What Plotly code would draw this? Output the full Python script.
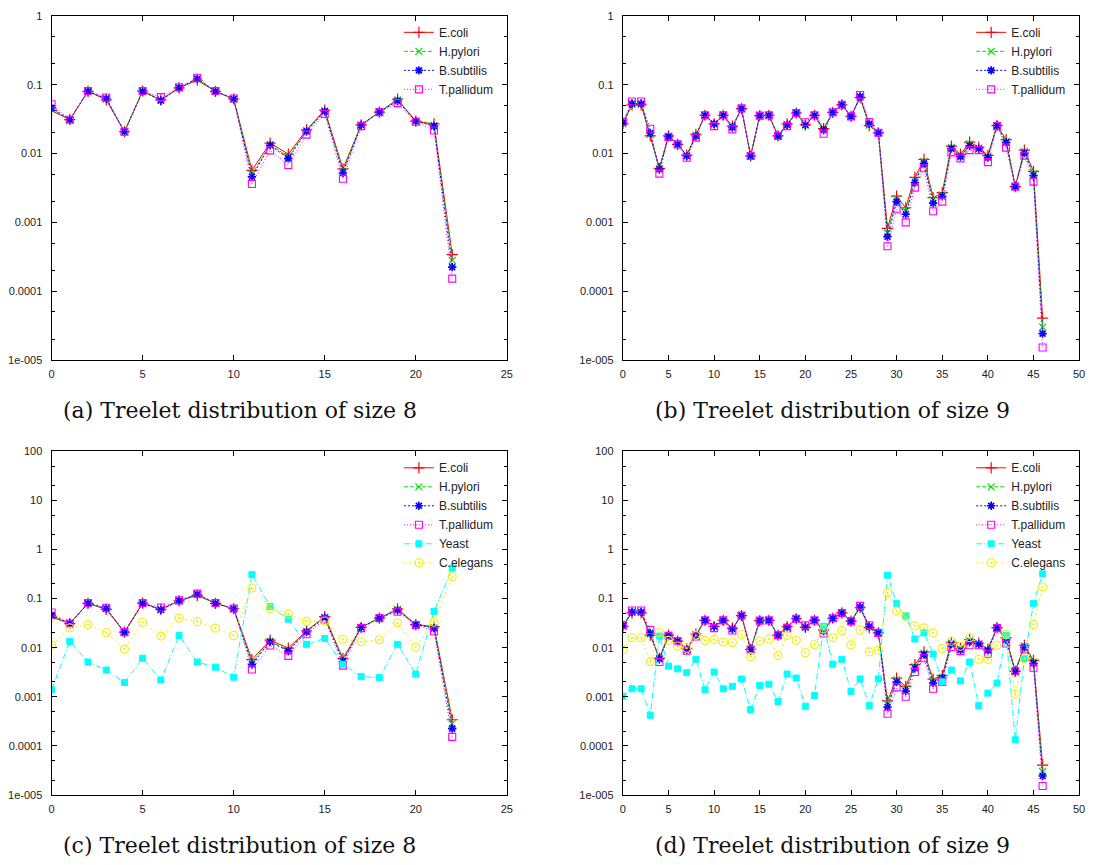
import plotly.graph_objects as go

# ---------------- data ----------------
x8 = list(range(23))
x9 = list(range(47))

ecoli8 = [0.042, 0.031, 0.080, 0.060, 0.0207, 0.081, 0.060, 0.090, 0.116, 0.080, 0.062, 0.0057,
          0.0142, 0.0098, 0.0221, 0.0428, 0.0060, 0.026, 0.040, 0.0615, 0.0295, 0.0269, 0.00034]
hpylori8 = [0.044, 0.031, 0.080, 0.062, 0.0207, 0.080, 0.060, 0.090, 0.120, 0.080, 0.062, 0.0050,
            0.0135, 0.0090, 0.0215, 0.0415, 0.0055, 0.026, 0.040, 0.060, 0.0295, 0.0255, 0.00028]
bsubtilis8 = [0.046, 0.031, 0.080, 0.063, 0.0207, 0.080, 0.059, 0.090, 0.122, 0.080, 0.062, 0.0046,
              0.0132, 0.0085, 0.0210, 0.041, 0.0052, 0.026, 0.040, 0.058, 0.0295, 0.025, 0.000224]
tpallidum8 = [0.052, 0.031, 0.081, 0.065, 0.0207, 0.081, 0.066, 0.092, 0.126, 0.081, 0.063, 0.0036,
              0.0111, 0.0068, 0.0188, 0.0375, 0.0043, 0.025, 0.040, 0.054, 0.029, 0.0216, 0.000152]
yeast8 = [0.00139, 0.0134, 0.0051, 0.0035, 0.00195, 0.0061, 0.0022, 0.0177, 0.0051, 0.0040, 0.0025,
          0.308, 0.069, 0.038, 0.0117, 0.0154, 0.0046, 0.00257, 0.00245, 0.0117, 0.0029, 0.055, 0.415]
celegans8 = [0.0113, 0.0253, 0.0295, 0.0204, 0.0094, 0.0329, 0.0172, 0.040, 0.0339, 0.025, 0.0177,
             0.164, 0.063, 0.0483, 0.0344, 0.035, 0.0148, 0.0132, 0.0145, 0.0319, 0.0103, 0.033, 0.28]

ecoli9 = [0.027, 0.051, 0.051, 0.018, 0.0061, 0.018, 0.0136, 0.0095, 0.019, 0.036,
          0.027, 0.036, 0.025, 0.045, 0.0092, 0.0355, 0.036, 0.018, 0.027, 0.0388,
          0.026, 0.036, 0.023, 0.0397, 0.051, 0.0347, 0.065, 0.0255, 0.020, 0.00082,
          0.0024, 0.00163, 0.0045, 0.0082, 0.00228, 0.0027, 0.0128, 0.0097, 0.0146, 0.0123,
          0.0094, 0.0255, 0.0159, 0.0033, 0.0112, 0.0055, 0.0000406]
hpylori9 = [0.027, 0.052, 0.052, 0.019, 0.0060, 0.0178, 0.0136, 0.0093, 0.0185, 0.036,
            0.027, 0.036, 0.0245, 0.045, 0.0092, 0.0355, 0.036, 0.018, 0.0265, 0.0388,
            0.026, 0.036, 0.0225, 0.0397, 0.051, 0.0347, 0.066, 0.026, 0.020, 0.00070,
            0.0022, 0.00145, 0.0041, 0.0077, 0.0021, 0.0025, 0.0123, 0.0093, 0.0138, 0.012,
            0.0090, 0.0255, 0.0150, 0.0033, 0.0107, 0.0051, 0.000030]
bsubtilis9 = [0.028, 0.053, 0.053, 0.0199, 0.0059, 0.0176, 0.0136, 0.0092, 0.018, 0.036,
              0.027, 0.036, 0.024, 0.045, 0.0092, 0.0355, 0.036, 0.018, 0.026, 0.0388,
              0.026, 0.036, 0.022, 0.0397, 0.051, 0.0347, 0.067, 0.027, 0.020, 0.00062,
              0.0020, 0.00131, 0.0038, 0.0072, 0.0019, 0.0024, 0.0118, 0.0090, 0.013, 0.0118,
              0.0088, 0.0255, 0.0145, 0.0033, 0.0102, 0.0048, 0.0000242]
tpallidum9 = [0.029, 0.057, 0.057, 0.0229, 0.0051, 0.0174, 0.0136, 0.0087, 0.017, 0.036,
              0.025, 0.036, 0.0224, 0.0453, 0.0092, 0.0355, 0.036, 0.018, 0.025, 0.0388,
              0.0285, 0.036, 0.0194, 0.0397, 0.051, 0.0347, 0.071, 0.0286, 0.020, 0.00045,
              0.00155, 0.0010, 0.0032, 0.0061, 0.00145, 0.0020, 0.0104, 0.0085, 0.0112, 0.0112,
              0.0075, 0.025, 0.0122, 0.0033, 0.0093, 0.0039, 0.0000152]
yeast9 = [0.00102, 0.00145, 0.00145, 0.00042, 0.0172, 0.0042, 0.0037, 0.0031, 0.0058, 0.00139,
          0.0032, 0.00145, 0.00163, 0.0023, 0.00055, 0.0017, 0.0018, 0.00080, 0.0029, 0.0024,
          0.00064, 0.00106, 0.0274, 0.0046, 0.0058, 0.00129, 0.0023, 0.00066, 0.0023, 0.30,
          0.079, 0.045, 0.0150, 0.020, 0.0074, 0.0020, 0.0035, 0.0021, 0.0051, 0.00066,
          0.00119, 0.0019, 0.0178, 0.000133, 0.0060, 0.080, 0.32]
celegans9 = [0.0091, 0.0159, 0.0159, 0.0052, 0.0204, 0.0141, 0.0108, 0.0097, 0.0178, 0.014,
             0.0146, 0.013, 0.0127, 0.0186, 0.0065, 0.0137, 0.015, 0.0069, 0.0178, 0.0141,
             0.0079, 0.0115, 0.0241, 0.0159, 0.0224, 0.0115, 0.023, 0.0082, 0.0089, 0.132,
             0.056, 0.043, 0.028, 0.0253, 0.020, 0.0096, 0.0135, 0.0107, 0.0159, 0.0058,
             0.0058, 0.0112, 0.019, 0.00113, 0.0059, 0.0295, 0.172]

series_names = ["E.coli", "H.pylori", "B.subtilis", "T.pallidum", "Yeast", "C.elegans"]
captions = ["(a) Treelet distribution of size 8", "(b) Treelet distribution of size 9",
            "(c) Treelet distribution of size 8", "(d) Treelet distribution of size 9"]
ytick_vals_top = [1e-5, 1e-4, 1e-3, 1e-2, 1e-1, 1]
ytick_text_top = ["1e-005", "0.0001", "0.001", "0.01", "0.1", "1"]
ytick_vals_bot = [1e-5, 1e-4, 1e-3, 1e-2, 1e-1, 1, 10, 100]
ytick_text_bot = ["1e-005", "0.0001", "0.001", "0.01", "0.1", "1", "10", "100"]

# ---------------- styling ----------------
W, H = 1099, 865
styles = {
    "E.coli":     dict(color="#ff0000", dash="solid", symbol="cross-thin-open", size=8, lw=1.2),
    "H.pylori":   dict(color="#00e000", dash="4px,2px", symbol="x-thin-open", size=7, lw=1.2),
    "B.subtilis": dict(color="#0000ff", dash="2px,2px", symbol="asterisk-open", size=7, lw=1.6),
    "T.pallidum": dict(color="#ff00ff", dash="1px,2px", symbol="square-open", size=7, lw=1.1),
    "Yeast":      dict(color="#00ffff", dash="6px,2px,1px,2px", symbol="square", size=6, lw=1),
    "C.elegans":  dict(color="#f0f000", dash="2px,3px", symbol="circle-open-dot", size=8, lw=1.1),
}

def xdom(a, b):
    return [a / W, b / W]

def ydom(top, bottom):
    return [1 - bottom / H, 1 - top / H]

panels = [
    dict(x=x8, data=[ecoli8, hpylori8, bsubtilis8, tpallidum8], xr=[0, 25],
         xd=xdom(49, 508), yd=ydom(10, 359), yr=[-5, 0], tv=ytick_vals_top, tt=ytick_text_top,
         capx=58, capy=410),
    dict(x=x9, data=[ecoli9, hpylori9, bsubtilis9, tpallidum9], xr=[0, 50],
         xd=xdom(625, 1085), yd=ydom(10, 359), yr=[-5, 0], tv=ytick_vals_top, tt=ytick_text_top,
         capx=655, capy=410),
    dict(x=x8, data=[ecoli8, hpylori8, bsubtilis8, tpallidum8, yeast8, celegans8], xr=[0, 25],
         xd=xdom(49, 508), yd=ydom(451.6, 800), yr=[-5, 2], tv=ytick_vals_bot, tt=ytick_text_bot,
         capx=58, capy=851),
    dict(x=x9, data=[ecoli9, hpylori9, bsubtilis9, tpallidum9, yeast9, celegans9], xr=[0, 50],
         xd=xdom(625, 1085), yd=ydom(451.6, 800), yr=[-5, 2], tv=ytick_vals_bot, tt=ytick_text_bot,
         capx=655, capy=851),
]

fig = go.Figure()
layout = dict(width=W, height=H, autosize=False, margin=dict(l=0, r=0, t=0, b=0),
              paper_bgcolor="white", plot_bgcolor="white", showlegend=True,
              font=dict(family="Liberation Sans, Arial, sans-serif", size=11, color="#222"))
annotations = []
tickfont = dict(family="Liberation Sans, Arial, sans-serif", size=11, color="#222")

for i, p in enumerate(panels):
    k = "" if i == 0 else str(i + 1)
    leg = "legend" if i == 0 else "legend" + str(i + 1)
    for name, vals in zip(series_names, p["data"]):
        s = styles[name]
        fig.add_trace(go.Scatter(
            x=p["x"], y=vals, name=name, mode="lines+markers",
            xaxis="x" + k, yaxis="y" + k, legend=leg,
            line=dict(color=s["color"], width=1, dash=s["dash"]),
            marker=dict(symbol=s["symbol"], size=s["size"], color=s["color"],
                        line=dict(color=s["color"], width=s["lw"])),
        ))
    minor_vals = [m * 10 ** e for e in range(p["yr"][0], p["yr"][1]) for m in (2, 5)]
    layout["xaxis" + k] = dict(
        domain=p["xd"], anchor="y" + k, range=p["xr"], dtick=5, tick0=0,
        showline=True, linecolor="black", linewidth=1.2, mirror="allticks",
        ticks="inside", ticklen=5, tickcolor="black", showgrid=False, zeroline=False,
        tickfont=tickfont, ticklabelstandoff=4,
    )
    layout["yaxis" + k] = dict(
        domain=p["yd"], anchor="x" + k, type="log", range=p["yr"],
        tickmode="array", tickvals=p["tv"], ticktext=p["tt"],
        showline=True, linecolor="black", linewidth=1.2, mirror="allticks",
        ticks="inside", ticklen=5, tickcolor="black", showgrid=False, zeroline=False,
        tickfont=tickfont, ticklabelstandoff=6,
        minor=dict(tickmode="array", tickvals=minor_vals, ticks="inside", ticklen=3,
                   tickcolor="black", showgrid=False),
    )
    right_px = p["xd"][1] * W - 8
    top_px = (1 - p["yd"][1]) * H + 2
    layout[leg] = dict(
        x=right_px / W, y=1 - top_px / H, xanchor="right", yanchor="top",
        bgcolor="rgba(0,0,0,0)", borderwidth=0, itemwidth=30, tracegroupgap=0,
        font=dict(family="Liberation Sans, Arial, sans-serif", size=12, color="#222"),
    )
    annotations.append(dict(
        text=captions[i], xref="paper", yref="paper", x=p["capx"] / W, y=1 - p["capy"] / H,
        xanchor="left", yanchor="middle", showarrow=False,
        font=dict(family="DejaVu Serif, Liberation Serif, serif", size=22, color="#111"),
    ))

layout["annotations"] = annotations
fig.update_layout(**layout)
fig.write_html("out.html")
